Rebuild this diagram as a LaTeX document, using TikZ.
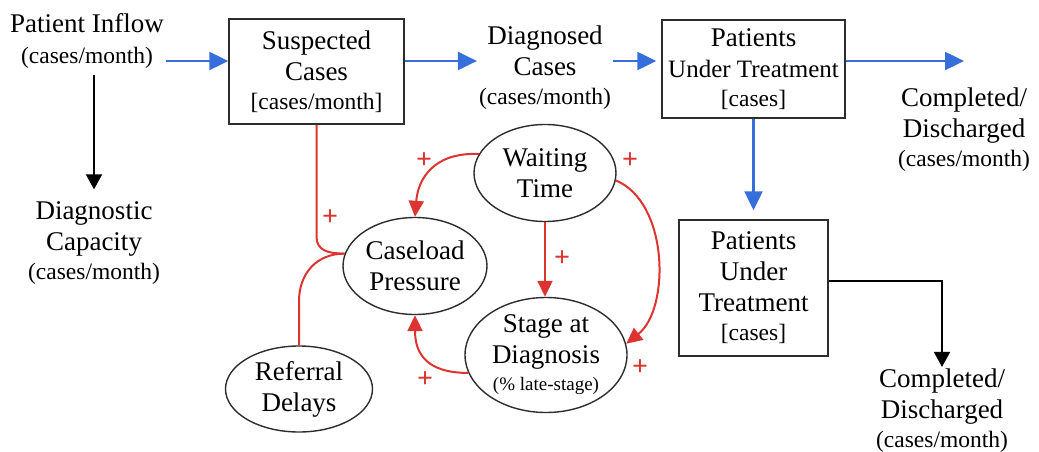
\documentclass[tikz,border=0pt]{standalone}
\usepackage{fontspec}
\setmainfont{Liberation Serif}
\usetikzlibrary{arrows.meta,shapes.geometric,calc}

\definecolor{flowblue}{RGB}{54,110,220}
\definecolor{loopred}{RGB}{220,52,48}
\definecolor{edgegray}{RGB}{45,45,45}

\newcommand\bigtxt{\fontsize{27}{31}\selectfont}
\newcommand\midtxt{\fontsize{25}{29}\selectfont}
\newcommand\smtxt{\fontsize{23.5}{27}\selectfont}
\newcommand\tinytxt{\fontsize{19}{22}\selectfont}

\tikzset{
  term/.style={align=center, inner sep=2pt, font=\bigtxt},
  stock/.style={draw=edgegray, line width=1.5pt, rectangle, align=center, inner sep=0pt, font=\bigtxt},
  factor/.style={draw=edgegray, line width=1.4pt, ellipse, align=center, inner sep=0pt, font=\bigtxt},
  flow/.style={draw=flowblue, line width=2.5pt, -{Triangle[length=19pt,width=18pt]}},
  outflow/.style={draw=black, line width=1.9pt, -{Triangle[length=15pt,width=16pt]}},
  link/.style={draw=loopred, line width=2pt},
  cause/.style={link, -{Triangle[length=16pt,width=15pt]}},
  sign/.style={text=loopred, font=\fontsize{28}{28}\selectfont\bfseries, inner sep=0pt},
}

\begin{document}
\begin{tikzpicture}[x=1pt,y=-1pt]
\fill[white] (0,0) rectangle (1039,452);
\useasboundingbox (0,0) rectangle (1039,452);

% stocks, flows and their labels
\node[term] (inflow) at (87,41) {Patient Inflow\\{\smtxt (cases/month)}};
\node[stock, minimum width=175pt, minimum height=105pt] (susp) at (316.5,71.5)
  {Suspected\\Cases\\[-2pt]{\smtxt [cases/month]}};
\node[term] (diag) at (545,68) {Diagnosed\\Cases\\[-2pt]{\smtxt (cases/month)}};
\node[stock, minimum width=183pt, minimum height=98pt] (treat) at (753.5,69)
  {Patients\\{\midtxt Under Treatment}\\[-2pt]{\smtxt [cases]}};
\node[term] (done1) at (964,130) {Completed/\\Discharged\\[-2pt]{\smtxt (cases/month)}};
\node[stock, minimum width=149pt, minimum height=136pt] (treat2) at (753.5,288)
  {Patients\\Under\\Treatment\\[-2pt]{\smtxt [cases]}};
\node[term] (done2) at (942,411) {Completed/\\Discharged\\[-2pt]{\smtxt (cases/month)}};
\node[term] (capacity) at (94,243) {Diagnostic\\Capacity\\[-2pt]{\smtxt (cases/month)}};

% causal factors
\node[factor, minimum width=142pt, minimum height=97pt] (wait) at (545,173) {Waiting\\Time};
\node[factor, minimum width=144pt, minimum height=97pt] (load) at (415,266) {Caseload\\Pressure};
\node[factor, minimum width=162pt, minimum height=115pt] (stage) at (546,355)
  {Stage at\\Diagnosis\\[-4pt]{\tinytxt (\% late-stage)}};
\node[factor, minimum width=147pt, minimum height=86pt] (refer) at (299,389) {Referral\\Delays};

% main flow line
\coordinate (lane) at (0,61);
\draw[flow] (inflow.east |- lane) -- (susp.west |- lane);
\draw[flow] (susp.east |- lane) -- (diag.west |- lane);
\draw[flow, shorten >=5pt] (diag.east |- lane) -- (treat.west |- lane);
\draw[flow] (treat.east |- lane) -- (done1.north |- lane);
\draw[flow, shorten >=9pt] (treat.south) -- (treat2.north);

% outflows
\draw[outflow, shorten <=4pt, shorten >=10pt] (capacity.north |- inflow.south) -- (capacity.north);
\draw[outflow] ([yshift=7pt]treat2.east) -| (done2.north);

% feedback links
\draw[link] (susp.south) -- ++(0,112) .. controls ($(susp.south)+(0,126)$) and ($(load.170)+(-16,0)$) .. (load.170);
\draw[link] (refer.north) -- ++(0,-44) .. controls ($(refer.north)+(0,-72)$) and ($(load.170)+(-28,0)$) .. (load.170);
\draw[cause] (wait.164) .. controls ($(wait.164)+(-45,-2)$) and ($(load.north)+(3,-38)$) .. (load.north);
\draw[cause] (wait.south) -- (wait.south |- stage.north);
\draw[cause] (wait.-6) .. controls ($(wait.-6)+(53,22)$) and ($(stage.8)+(44,-35)$) .. (stage.8);
\draw[cause] (stage.193) .. controls ($(stage.193)+(-42,0)$) and ($(load.south)+(0,38)$) .. (load.south);

% link polarities
\node[sign] (p1) at (330,218) {+};
\node[sign] (p2) at (424,161) {+};
\node[sign] (p3) at (562,259) {+};
\node[sign] (p4) at (630,161) {+};
\node[sign] (p5) at (640,368) {+};
\node[sign] (p6) at (425,380) {+};
\end{tikzpicture}
\end{document}
